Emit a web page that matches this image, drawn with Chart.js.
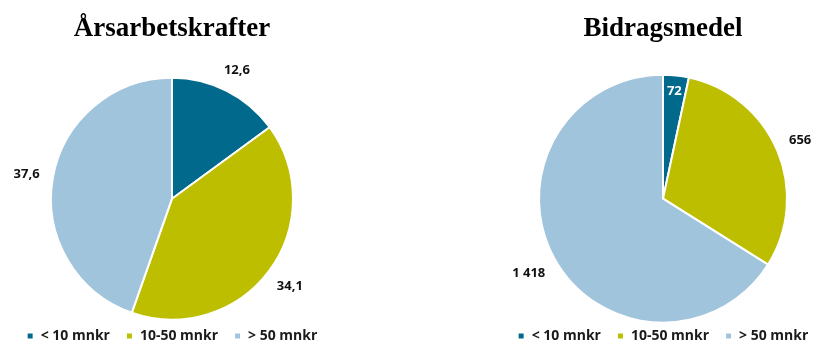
<!DOCTYPE html>
<html>
<head>
<meta charset="utf-8">
<script src="https://cdn.jsdelivr.net/npm/chart.js@4.4.0/dist/chart.umd.min.js"></script>
<style>
  html, body { margin: 0; padding: 0; background: #fff; width: 814px; height: 343px; overflow: hidden; position: relative; }
  .ruta { position: absolute; top: 0; height: 353px; }
  #vanster { left: 0; width: 344px; }
  #hoger { left: 483px; width: 360px; }
</style>
</head>
<body>
<div class="ruta" id="vanster"><canvas id="arsarbetskrafter"></canvas></div>
<div class="ruta" id="hoger"><canvas id="bidragsmedel"></canvas></div>
<script>
const categories = ["< 10 mnkr", "10-50 mnkr", "> 50 mnkr"];
const arsarbetskrafter = [12.6, 34.1, 37.6];
const bidragsmedel = [72, 656, 1418];
const colors = ["#00698C", "#BDBE00", "#A1C4DD"];

// svensk formatering: decimalkomma och mellanslag som tusentalsavgränsare
const fmt = n => String(n).replace('.', ',').replace(/\B(?=(\d{3})+(?!\d))/g, ' ');

const etiketter = {
    id: 'etiketter',
    afterDatasetsDraw(chart) {
        const ctx = chart.ctx;
        const meta = chart.getDatasetMeta(0);
        const data = chart.data.datasets[0].data;
        ctx.save();
        ctx.font = 'bold 13px "Open Sans"';
        ctx.textAlign = 'center';
        ctx.textBaseline = 'middle';
        meta.data.forEach((arc, i) => {
            const { x, y, startAngle, endAngle, outerRadius } =
                arc.getProps(['x', 'y', 'startAngle', 'endAngle', 'outerRadius'], true);
            const mid = (startAngle + endAngle) / 2;
            const ux = Math.cos(mid), uy = Math.sin(mid);
            const text = fmt(data[i]);
            let d;
            if (endAngle - startAngle < 0.35) {
                // liten sektor: etikett inuti
                d = outerRadius * 0.87;
                ctx.fillStyle = '#fff';
            } else {
                const w = ctx.measureText(text).width;
                d = outerRadius + 13 + Math.abs(ux) * w / 2 + Math.abs(uy) * 4;
                ctx.fillStyle = '#111';
            }
            ctx.fillText(text, x + ux * d, y + uy * d);
        });
        ctx.restore();
    }
};

function lagaDiagram(id, titel, varden, radie) {
    return new Chart(document.getElementById(id), {
        type: 'pie',
        data: {
            labels: categories,
            datasets: [{
                data: varden,
                backgroundColor: colors,
                borderColor: '#fff',
                borderWidth: 2,
                radius: radie
            }]
        },
        options: {
            responsive: true,
            maintainAspectRatio: false,
            animation: false,
            plugins: {
                title: {
                    display: true,
                    text: titel,
                    color: '#000',
                    font: { family: 'Liberation Serif', size: 27, weight: 'bold' },
                    padding: { top: 13, bottom: 39 }
                },
                legend: {
                    position: 'bottom',
                    labels: {
                        boxWidth: 7,
                        boxHeight: 7,
                        padding: 16,
                        color: '#1a1a1a',
                        font: { family: 'Open Sans', size: 14, weight: 'bold' }
                    }
                },
                tooltip: { enabled: false }
            }
        },
        plugins: [etiketter]
    });
}

lagaDiagram('arsarbetskrafter', 'Årsarbetskrafter', arsarbetskrafter, 121);
lagaDiagram('bidragsmedel', 'Bidragsmedel', bidragsmedel, 124);
</script>
</body>
</html>
